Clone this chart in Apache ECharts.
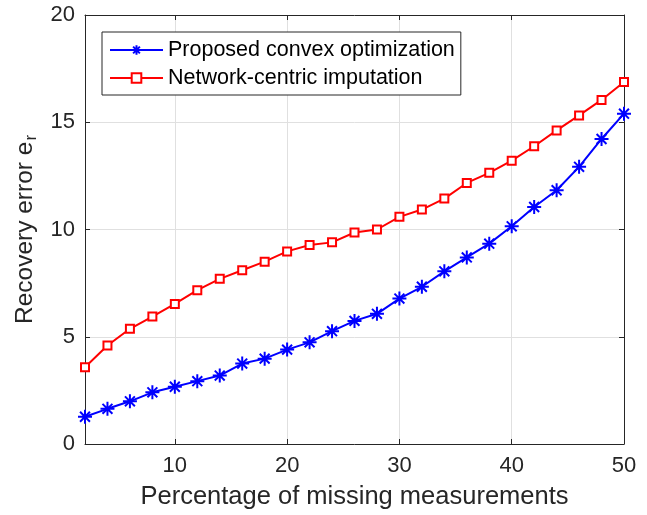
<!DOCTYPE html>
<html>
<head>
<meta charset="utf-8">
<script src="https://cdn.jsdelivr.net/npm/echarts@6/dist/echarts.min.js"></script>
<style>
  html, body { margin: 0; padding: 0; background: #fff; }
  #chart { width: 647px; height: 515px; }
</style>
</head>
<body>
<div id="chart"></div>
<script>
// Percentage of missing measurements
const missingPct = [2, 4, 6, 8, 10, 12, 14, 16, 18, 20, 22, 24, 26, 28, 30, 32, 34, 36, 38, 40, 42, 44, 46, 48, 50];
// Recovery error of each method
const convexErr = [1.27, 1.64, 1.99, 2.41, 2.67, 2.93, 3.19, 3.75, 3.98, 4.40, 4.74, 5.26, 5.74, 6.07, 6.78, 7.33, 8.05, 8.70, 9.34, 10.15, 11.05, 11.83, 12.92, 14.22, 15.40];
const imputeErr = [3.58, 4.59, 5.37, 5.94, 6.53, 7.17, 7.70, 8.10, 8.50, 8.98, 9.28, 9.40, 9.86, 10.00, 10.59, 10.93, 11.44, 12.17, 12.64, 13.21, 13.88, 14.62, 15.32, 16.04, 16.88];
const xTicks = [10, 20, 30, 40, 50];
const seriesNames = ['Proposed convex optimization', 'Network-centric imputation'];

const FONT = '"Liberation Sans", Arial, Helvetica, sans-serif';
const AXIS_COLOR = '#262626';
// eight-armed asterisk marker
const asterisk = 'path://M0,-10L0,10M-10,0L10,0M-7.07,-7.07L7.07,7.07M-7.07,7.07L7.07,-7.07';

const chart = echarts.init(document.getElementById('chart'), null, { renderer: 'canvas' });

const tickStyle = { show: true, inside: true, length: 5, lineStyle: { color: AXIS_COLOR, width: 1 } };
const lineAxis = { show: true, onZero: false, lineStyle: { color: AXIS_COLOR, width: 1 } };

chart.setOption({
  animation: false,
  backgroundColor: '#fff',
  textStyle: { fontFamily: FONT },
  grid: { left: 85, right: 23, top: 15, bottom: 71, containLabel: false },
  legend: {
    orient: 'vertical',
    left: 102,
    top: 32,
    data: seriesNames,
    backgroundColor: '#fff',
    borderColor: AXIS_COLOR,
    borderWidth: 1,
    borderRadius: 0,
    padding: [7, 6, 6, 7],
    itemGap: 6,
    itemWidth: 53,
    itemHeight: 12,
    textStyle: { fontFamily: FONT, fontSize: 21.5, color: '#000', padding: [0, 0, 0, 0] }
  },
  xAxis: [{
    type: 'value',
    min: 2, max: 50,
    name: 'Percentage of missing measurements',
    nameLocation: 'middle',
    nameGap: 40,
    nameTextStyle: { fontFamily: FONT, fontSize: 25.5, color: AXIS_COLOR },
    axisLine: lineAxis,
    axisTick: Object.assign({ customValues: xTicks }, tickStyle),
    axisLabel: { customValues: xTicks, fontFamily: FONT, fontSize: 22, color: AXIS_COLOR, margin: 11 },
    splitLine: { show: true, lineStyle: { color: '#e0e0e0', width: 1 } }
  }, {
    type: 'value',
    position: 'top',
    min: 2, max: 50,
    axisLine: lineAxis,
    axisTick: Object.assign({ customValues: xTicks }, tickStyle),
    axisLabel: { show: false },
    splitLine: { show: false }
  }],
  yAxis: [{
    type: 'value',
    min: 0, max: 20, interval: 5,
    name: '{main|Recovery error e}{sub|r}',
    nameLocation: 'middle',
    nameGap: 42,
    nameRotate: 90,
    nameTextStyle: {
      fontFamily: FONT, color: AXIS_COLOR,
      rich: {
        main: { fontFamily: FONT, fontSize: 24.5, color: AXIS_COLOR },
        sub: { fontFamily: FONT, fontSize: 17, color: AXIS_COLOR, padding: [12, 0, 0, 1] }
      }
    },
    axisLine: lineAxis,
    axisTick: tickStyle,
    axisLabel: { fontFamily: FONT, fontSize: 22, color: AXIS_COLOR, margin: 10 },
    splitLine: { show: true, lineStyle: { color: '#e0e0e0', width: 1 } }
  }, {
    type: 'value',
    position: 'right',
    min: 0, max: 20, interval: 5,
    axisLine: lineAxis,
    axisTick: tickStyle,
    axisLabel: { show: false },
    splitLine: { show: false }
  }],
  series: [{
    name: seriesNames[0],
    type: 'line',
    data: missingPct.map((x, i) => [x, convexErr[i]]),
    symbol: asterisk,
    symbolSize: 14,
    lineStyle: { color: '#0000ff', width: 2 },
    itemStyle: { color: '#0000ff', borderColor: '#0000ff', borderWidth: 2 },
    z: 3
  }, {
    name: seriesNames[1],
    type: 'line',
    data: missingPct.map((x, i) => [x, imputeErr[i]]),
    symbol: 'rect',
    symbolSize: 8,
    lineStyle: { color: '#ff0000', width: 2 },
    itemStyle: { color: '#ffffff', borderColor: '#ff0000', borderWidth: 2 },
    z: 3
  }]
});
</script>
</body>
</html>
